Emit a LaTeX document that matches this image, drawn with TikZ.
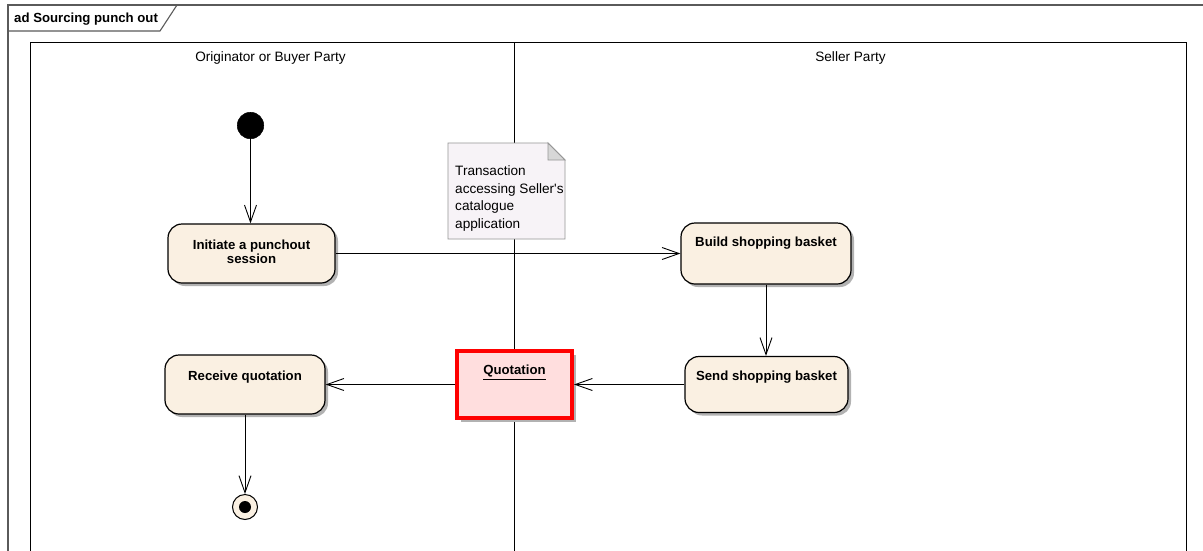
\documentclass[tikz,border=0pt]{standalone}
\usepackage{fontspec}
\setmainfont{Liberation Sans}
\usetikzlibrary{arrows.meta,shadows,calc}
\definecolor{actfill}{RGB}{250,240,226}
\definecolor{notefill}{RGB}{247,243,247}
\definecolor{noteline}{RGB}{150,150,150}
\definecolor{flapfill}{RGB}{215,215,215}
\definecolor{quotfill}{RGB}{255,222,222}
\definecolor{quotline}{RGB}{255,0,0}
\definecolor{framegray}{RGB}{90,90,90}
\begin{document}
\begin{tikzpicture}[x=1pt,y=-1pt,
  boldtext/.style={font=\fontsize{13.2}{14.7}\selectfont\bfseries},
  plaintext/.style={font=\fontsize{13.6}{17.8}\selectfont},
  action/.style={draw=black, line width=1.2pt, fill=actfill, rounded corners=14pt,
    inner sep=0pt,
    drop shadow={shadow xshift=3pt, shadow yshift=-3pt, fill=black!30, opacity=1}},
  acttext/.style={boldtext, anchor=north, inner sep=0pt, align=center},
  objbox/.style={draw=quotline, line width=4pt, fill=quotfill, inner sep=0pt,
    drop shadow={shadow xshift=4pt, shadow yshift=-4pt, fill=black!30, opacity=1}},
  flow/.style={line width=0.9pt, -{Straight Barb[length=17pt,width=12pt,line width=0.9pt]}},
  frameline/.style={line width=1.1pt, draw=framegray},
  laneline/.style={line width=1pt, draw=black}]
\useasboundingbox (0,0) rectangle (1203,550);
\fill[white] (0,0) rectangle (1203,550);

% diagram frame and its name tab
\draw[frameline] (8,552) -- (8,5) -- (1204,5);
\draw[frameline] (8,31) -- (160,31) -- (177,5);
\node[boldtext, anchor=base west, inner sep=0pt] (title) at (14,22) {ad Sourcing punch out};

% partitions
\draw[laneline] (30,552) -- (30,42) -- (1186,42) -- (1186,552);
\draw[laneline] (514,42) -- (514,552);
\node[plaintext, inner sep=0pt] (laneA) at (270.5,58) {Originator or Buyer Party};
\node[plaintext, inner sep=0pt] (laneB) at (850.5,58) {Seller Party};

% note
\draw[noteline, line width=0.9pt, fill=notefill]
  (448,143) -- (548,143) -- (565,160) -- (565,239) -- (448,239) -- cycle;
\draw[noteline, line width=0.9pt, fill=flapfill] (548,143) -- (548,160) -- (565,160) -- cycle;
\node[plaintext, anchor=north west, inner sep=0pt, align=left] (note) at (455,165.3)
  {Transaction\\accessing Seller\textquotesingle s\\catalogue\\application};

% initial and final nodes
\node[circle, fill=black, draw=black, minimum size=26.6pt, inner sep=0pt] (start) at (250.5,125.5) {};
\node[circle, fill=actfill, draw=black, line width=1pt, minimum size=25pt, inner sep=0pt] (final) at (245,507) {};
\node[circle, fill=black, minimum size=12pt, inner sep=0pt] (finaldot) at (final.center) {};

% actions
\node[action, minimum width=167pt, minimum height=59pt] (init) at (251.5,253.5) {};
\node[acttext] at ([yshift=-16pt]init.north) {Initiate a punchout\\session};

\node[action, minimum width=170pt, minimum height=61pt] (build) at (766,253.5) {};
\node[acttext] at ([yshift=-14.5pt]build.north) {Build shopping basket};

\node[action, minimum width=163pt, minimum height=56pt] (send) at (766.5,384.5) {};
\node[acttext] at ([yshift=-15pt]send.north) {Send shopping basket};

\node[action, minimum width=160pt, minimum height=59pt] (receive) at (245,384.5) {};
\node[acttext] at ([yshift=-16pt]receive.north) {Receive quotation};

% object node
\node[objbox, minimum width=115pt, minimum height=67pt] (quot) at (514.5,384.5) {};
\node[acttext] at ([yshift=-16pt]quot.north) {\underline{Quotation}};

% control flows
\draw[flow] (start) -- (start |- init.north);
\draw[flow] (init) -- (build);
\draw[flow] (build.south) -- (build.south |- send.north);
\draw[flow] (send) -- (send -| quot.east);
\draw[flow] (quot) -- (quot -| receive.east);
\draw[flow] (receive) -- (final);
\end{tikzpicture}
\end{document}
